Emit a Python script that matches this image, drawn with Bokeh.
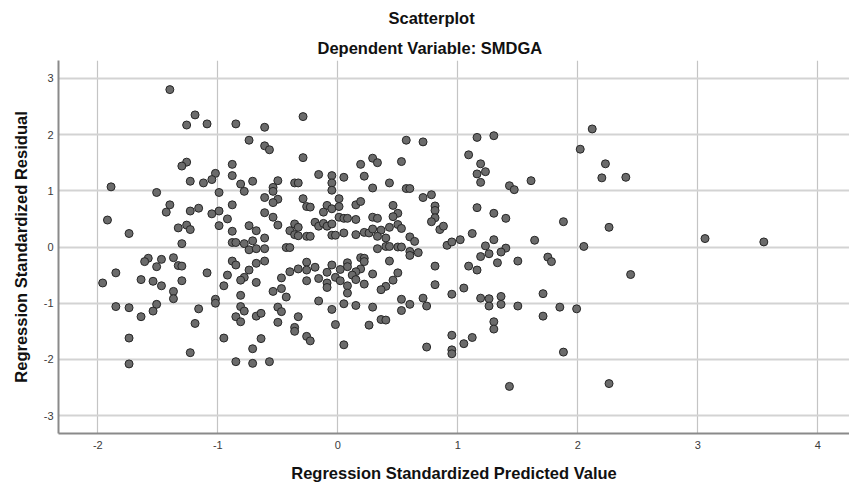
from bokeh.plotting import figure
from bokeh.models import FixedTicker, Title, Range1d
from bokeh.embed import file_html
from bokeh.resources import INLINE

# Regression standardized predicted values (x) and residuals (y)
pred = [
    -1.40, -1.19, -1.26, -1.09, -1.26, -1.30, -1.02, -1.23, -1.12, -1.05,
    -1.89, -1.51, -1.40, -1.43, -1.23, -1.16, -1.05, -1.92, -1.74, -1.33,
    -1.26, -1.23, -1.30,
    -1.58, -1.61, -1.47, -1.51, -1.37, -1.33, -1.30, -1.85, -1.96, -1.64,
    -1.54, -1.47, -1.30, -1.09, -1.37, -1.37, -1.85, -1.74, -1.51, -1.54,
    -1.64, -1.16, -1.02, -1.02, -1.19, -1.74, -1.23, -1.74,
    -0.85, -0.61, -0.29, -0.74, -0.61, -0.57, -0.29, -0.88, -0.88, -0.81,
    -0.71, -0.50, -0.54, -0.54, -0.78, -0.99, -0.36, -0.33, -0.16, -0.05,
    -0.05, -0.05, -0.61, -0.50, -0.54, -0.29, -0.88, -0.99, -0.26, -0.23,
    -0.09, -0.12, -0.05, -0.61, -0.54, -0.92, -0.99, -0.74, -0.68, -0.50,
    -0.36, -0.33, -0.40, -0.36, -0.33, -0.26, -0.23, -0.19, -0.16, -0.12,
    -0.09, -0.05, -0.05, -0.02, -0.88, -0.88, -0.85, -0.78, -0.71, -0.61,
    -0.74, -0.68, -0.61, -0.43, -0.40,
    -0.88, -0.85, -0.92, -0.95, -0.74, -0.78, -0.81, -0.68, -0.61, -0.68,
    -0.81, -0.81, -0.78, -0.85, -0.81, -0.68, -0.64, -0.95, -0.64, -0.71,
    -0.85, -0.71, -0.57, -0.47, -0.40, -0.33, -0.26, -0.26, -0.19, -0.26,
    -0.16, -0.09, -0.05, -0.09, -0.09, -0.02, -0.54, -0.47, -0.43, -0.50,
    -0.47, -0.50, -0.33, -0.36, -0.36, -0.26, -0.23, -0.16, -0.05, -0.02,
    0.57, 0.71, 0.29, 0.33, 0.53, 0.19, 0.05, 0.22, 0.43, 0.29,
    0.57, 0.60, 0.71, 0.78, 0.01, 0.01, 0.15, 0.19, 0.46, 0.50,
    0.46, 0.81, 0.81, 0.81, 0.78, 0.01, 0.05, 0.08, 0.15, 0.29,
    0.33, 0.05, 0.15, 0.22, 0.26, 0.29, 0.36, 0.43, 0.50, 0.53,
    0.33, 0.40, 0.60, 0.64, 0.85, 0.88, 0.91, 0.95, 1.02, 0.33,
    0.40, 0.43, 0.50, 0.53, 0.60, 0.60, 0.67, 0.08, 0.08, 0.02,
    0.02, 0.19, 0.22, 0.22, 0.19, 0.15, 0.12, 0.15, 0.22, 0.08,
    0.08, 0.29, 0.43, 0.50, 0.46, 0.40, 0.36, 0.81, 0.81, 0.95,
    0.05, 0.15, 0.29, 0.53, 0.60, 0.53, 0.71, 0.74, 0.36, 0.40,
    0.26, 0.05, 0.74, 0.95, 0.95, 0.95,
    1.16, 1.30, 2.12, 1.09, 2.02, 1.19, 1.23, 1.16, 1.19, 1.43,
    1.47, 1.61, 1.16, 1.30, 1.40, 1.88, 1.12, 1.30, 1.64, 1.23,
    1.40, 1.36, 2.05, 1.19, 1.26, 1.33, 1.50, 1.75, 1.78, 1.09,
    1.16, 1.05, 1.19, 1.26, 1.36, 1.26, 1.36, 1.50, 1.71, 1.71,
    1.85, 1.99, 1.30, 1.30, 1.12, 1.05, 1.88, 1.43,
    2.23, 2.20, 2.40, 2.26, 2.44, 3.06, 3.55, 2.26,
]
resid = [
    2.80, 2.35, 2.17, 2.19, 1.51, 1.44, 1.31, 1.17, 1.14, 1.20,
    1.07, 0.97, 0.75, 0.62, 0.64, 0.69, 0.59, 0.48, 0.24, 0.34,
    0.39, 0.31, 0.06,
    -0.20, -0.26, -0.22, -0.35, -0.19, -0.33, -0.34, -0.46, -0.64, -0.58,
    -0.61, -0.69, -0.60, -0.46, -0.79, -0.92, -1.06, -1.08, -1.02, -1.14,
    -1.24, -1.10, -0.93, -1.00, -1.36, -1.62, -1.88, -2.08,
    2.19, 2.13, 2.32, 1.90, 1.80, 1.73, 1.59, 1.47, 1.27, 1.12,
    1.17, 1.18, 1.06, 0.99, 0.99, 0.97, 1.14, 1.14, 1.29, 1.27,
    1.14, 1.01, 0.88, 0.85, 0.79, 0.86, 0.75, 0.64, 0.72, 0.71,
    0.74, 0.62, 0.68, 0.61, 0.53, 0.50, 0.38, 0.38, 0.29, 0.39,
    0.41, 0.35, 0.29, 0.22, 0.20, 0.19, 0.19, 0.44, 0.37, 0.42,
    0.37, 0.41, 0.21, 0.21, 0.28, 0.08, 0.08, 0.06, 0.11, 0.16,
    -0.05, -0.03, -0.03, -0.01, -0.01,
    -0.25, -0.32, -0.50, -0.69, -0.41, -0.54, -0.59, -0.29, -0.25, -0.63,
    -0.86, -1.06, -1.14, -1.24, -1.33, -1.23, -1.18, -1.62, -1.63, -1.81,
    -2.04, -2.07, -2.04, -0.55, -0.44, -0.39, -0.27, -0.41, -0.36, -0.60,
    -0.56, -0.45, -0.32, -0.64, -0.72, -0.54, -0.79, -0.74, -0.89, -1.07,
    -1.15, -1.34, -1.24, -1.43, -1.50, -1.59, -1.67, -0.96, -1.11, -1.38,
    1.90, 1.87, 1.58, 1.50, 1.52, 1.47, 1.24, 1.26, 1.14, 1.05,
    1.04, 1.04, 0.88, 0.93, 0.86, 0.72, 0.75, 0.81, 0.74, 0.60,
    0.54, 0.73, 0.65, 0.52, 0.45, 0.53, 0.51, 0.51, 0.49, 0.53,
    0.51, 0.25, 0.22, 0.26, 0.25, 0.32, 0.30, 0.35, 0.40, 0.33,
    0.19, 0.16, 0.18, 0.10, 0.31, 0.37, 0.03, 0.09, 0.13, -0.03,
    0.01, 0.01, 0.00, 0.00, -0.08, -0.15, -0.10, -0.28, -0.35, -0.40,
    -0.60, -0.19, -0.20, -0.26, -0.39, -0.44, -0.50, -0.58, -0.66, -0.69,
    -0.82, -0.48, -0.25, -0.46, -0.59, -0.70, -0.76, -0.34, -0.67, -0.84,
    -1.01, -1.04, -1.07, -0.93, -1.02, -1.13, -0.91, -1.05, -1.29, -1.30,
    -1.39, -1.74, -1.78, -1.57, -1.83, -1.90,
    1.95, 1.98, 2.10, 1.64, 1.74, 1.48, 1.34, 1.30, 1.15, 1.09,
    1.02, 1.18, 0.70, 0.60, 0.51, 0.45, 0.24, 0.13, 0.12, 0.02,
    -0.02, -0.09, 0.01, -0.17, -0.12, -0.28, -0.25, -0.18, -0.26, -0.34,
    -0.41, -0.73, -0.91, -0.92, -0.88, -1.05, -1.02, -1.05, -0.83, -1.23,
    -1.07, -1.10, -1.33, -1.46, -1.61, -1.72, -1.87, -2.48,
    1.48, 1.23, 1.24, 0.35, -0.49, 0.15, 0.09, -2.43,
]

x_ticks = [-2, -1, 0, 1, 2, 3, 4]
y_ticks = [-3, -2, -1, 0, 1, 2, 3]

title_text = "Scatterplot"
subtitle_text = "Dependent Variable: SMDGA"
x_label = "Regression Standardized Predicted Value"
y_label = "Regression Standardized Residual"

FONT = "Liberation Sans"

p = figure(
    width=849, height=486,
    output_backend="svg", toolbar_location=None,
    x_range=Range1d(-2.328, 4.264), y_range=Range1d(-3.318, 3.318),
    min_border_left=58, min_border_right=0, min_border_top=60, min_border_bottom=53,
    background_fill_color="white", border_fill_color="white",
)
p.outline_line_color = None

p.add_layout(Title(text=subtitle_text, align="left", offset=259, text_font=FONT,
                   text_font_size="16.5px", text_font_style="bold",
                   text_color="#111111", standoff=8), "above")
p.add_layout(Title(text=title_text, align="left", offset=330, text_font=FONT,
                   text_font_size="16.5px", text_font_style="bold",
                   text_color="#111111", standoff=11), "above")

p.xaxis.ticker = FixedTicker(ticks=x_ticks)
p.yaxis.ticker = FixedTicker(ticks=y_ticks)
p.xaxis.major_label_overrides = {t: str(t) for t in x_ticks}
p.yaxis.major_label_overrides = {t: str(t) for t in y_ticks}

for ax in (p.xaxis[0], p.yaxis[0]):
    ax.major_tick_out = 0
    ax.major_tick_in = 0
    ax.minor_tick_out = 0
    ax.minor_tick_in = 0
    ax.axis_line_color = "#8a8a8a"
    ax.axis_line_width = 2
    ax.major_label_text_font = FONT
    ax.major_label_text_font_size = "11px"
    ax.major_label_text_color = "#3a3a3a"
    ax.axis_label_text_font = FONT
    ax.axis_label_text_font_size = "16.5px"
    ax.axis_label_text_font_style = "bold"
    ax.axis_label_text_color = "#111111"

p.xaxis.axis_label = x_label
p.yaxis.axis_label = y_label
p.xaxis.major_label_standoff = 7
p.yaxis.major_label_standoff = 5
p.xaxis.axis_label_standoff = 12
p.yaxis.axis_label_standoff = 11

p.xgrid.grid_line_color = "#c4c4c4"
p.xgrid.grid_line_width = 1.2
p.ygrid.grid_line_color = "#d3d3d3"
p.ygrid.grid_line_width = 2

p.scatter(pred, resid, size=8, marker="circle",
          fill_color="#6b6b6b", line_color="#262626", line_width=1)

open("out.html", "w").write(file_html(p, INLINE))
